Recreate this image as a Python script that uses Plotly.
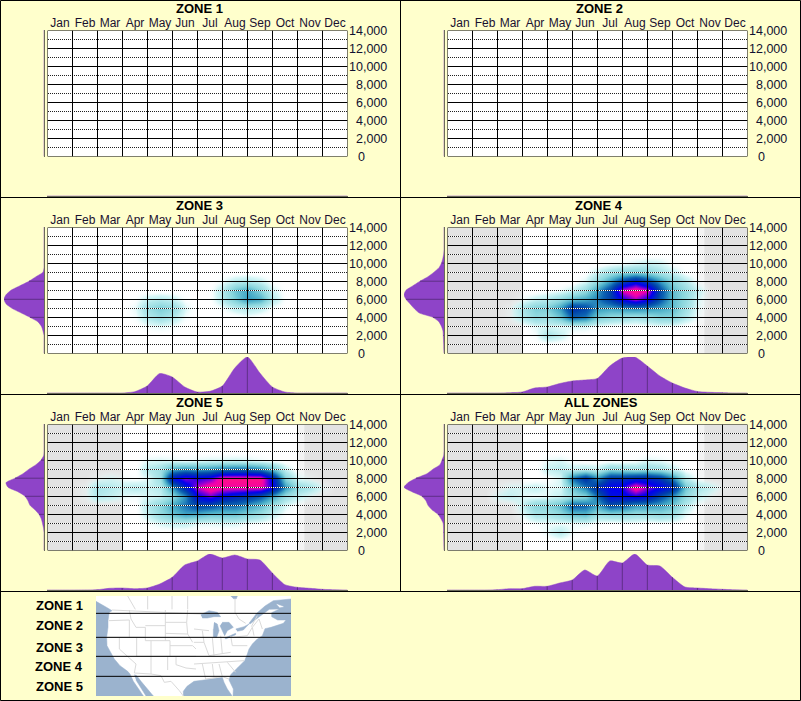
import plotly.graph_objects as go

W, H = 801, 701
CREAM = "#FFFFCC"
PURPLE = "#8E44C8"
FONT = "Liberation Sans"

MONTHS = ["Jan", "Feb", "Mar", "Apr", "May", "Jun", "Jul", "Aug", "Sep", "Oct", "Nov", "Dec"]
ELEV_TICKS = [0, 2000, 4000, 6000, 8000, 10000, 12000, 14000]
ELEV_DOTTED = [1000, 3000, 5000, 7000, 9000, 11000, 13000]
TITLES = ["ZONE 1", "ZONE 2", "ZONE 3", "ZONE 4", "ZONE 5", "ALL ZONES"]
SHADE_BANDS = [(0, 3, "#e3e3e3"), (10, 10.27, "#f3f3f3"), (10.27, 12, "#e3e3e3")]

# density along the year, sampled every half month (Jan 1 .. Dec 31)
MONTH_NODES = [i / 2 for i in range(25)]
MONTH_EMPTY = [0] * 25
MONTH_ZONE3 = [0, 0, 0, 0, 0, 0, 0, 1.3, 7, 19.5, 16, 6, 1, 1.7, 7, 25, 36, 20, 6, 1, 0, 0, 0, 0, 0]
MONTH_ZONE4 = [0, 0, 0, 0, 0, .3, 1, 5, 6, 9.5, 12, 13, 14.5, 27, 35, 36, 27, 17, 10, 5, 1.5, .7, .3, 0, 0]
MONTH_ZONE5 = [0, 0, 0, .1, .3, 1.7, 2, 1.3, 2, 6, 12.7, 25, 29, 36, 32, 35, 31, 30, 17, 5.3, 2.7, 1.7, .7, .2, 0]
MONTH_ALL = [0, 0, 0, 0, .3, 1.3, 1.3, 3.7, 3.7, 7, 10, 20, 14, 29, 27, 36, 25, 24, 12.7, 3, 2, 1.3, .7, .2, 0]

# density along elevation, sampled every 500 ft (0 .. 14000)
ELEV_NODES = [i * 500 for i in range(29)]
ELEV_EMPTY = [0] * 29
ELEV_ZONE3 = [0, 0, 0, 0, 0, 1, 2.5, 6, 14, 23, 32, 38, 40, 38, 33, 24, 15, 8, 1, 0, 0, 0, 0, 0, 0, 0, 0, 0, 0]
ELEV_ZONE4 = [0, .2, .3, .5, .7, 1, 2.5, 5, 11, 25, 30, 34, 38, 40, 38, 31, 24, 16, 10, 5, 2.5, 1.2, .3, 0, 0, 0, 0, 0, 0]
ELEV_ZONE5 = [0, 0, 0, 0, 0, .5, 1.5, 2.7, 5, 9, 14, 16, 19, 26, 36, 38, 29, 21, 15, 8, 3, .3, 0, 0, 0, 0, 0, 0, 0]
ELEV_ALL = [0, .1, .2, .3, .4, .5, .8, 3, 6, 12, 16, 18, 22, 32, 40, 36, 28, 17, 11, 4, 2, .3, 0, 0, 0, 0, 0, 0, 0]

# heat rows: (elevation, first month of the row, values every half month)
HEAT_ZONE3 = [
    (3000, 4.0, [.5, .8, .5]),
    (4000, 3.5, [.5, 2, 3, 2, .5, 0, 0, 0, 0, .4]),
    (5000, 3.5, [.8, 3, 4.5, 3.5, 1, 0, 0, .4, 1.5, 2, 1.5, .3]),
    (6000, 3.5, [.3, 1.5, 2, 1.5, .3, 0, .2, 2, 4.5, 7, 6, 2, .2]),
    (7000, 6.5, [.2, 2, 5, 6.5, 4, 1.2, .1]),
    (8000, 7.0, [.6, 1.8, 2.2, 1.4, .2]),
]
HEAT_ZONE4 = [
    (2000, 3.5, [.5, 2.5, 1.5, .2]),
    (3000, 3.5, [.8, 1.2, .8, 1, 1, .4, .1, 0, 0, .2, .5, .4]),
    (4000, 2.5, [.5, 2, 3.5, 3, 5, 9, 8, 4.5, 3.5, 3, 2.5, 3, 4, 4, 2, .5]),
    (5000, 2.5, [.5, 2.5, 4.5, 4.5, 7, 12, 10.5, 7, 6.5, 7, 7.5, 7, 6.5, 5.5, 3, .8]),
    (6000, 3.0, [.5, 1.5, 2, 3.5, 5.5, 6.5, 8, 11, 15, 17.5, 15, 9.5, 5.5, 3.5, 1]),
    (7000, 3.0, [.1, 0, .3, .6, 1.5, 3.5, 7, 11, 18.5, 20, 18.5, 10, 5.5, 3.5, 1.5]),
    (8000, 5.5, [1, 3.5, 7, 11, 14, 11, 7, 4, 2, .3]),
    (9000, 5.5, [.2, 1.5, 3, 4, 4.5, 4, 2.5, 1.5, .3]),
    (10000, 6.5, [.3, .5, 1, 1.5, 1.2, .3]),
]
HEAT_ZONE5 = [
    (3000, 4.0, [.3, 1, 1.5, 1.5, .8, .8, 1, 1, .5, .3]),
    (4000, 4.0, [1.5, 3.5, 5, 6.5, 6, 5, 5, 5, 4, 3, 1.5, .3]),
    (5000, 3.5, [.1, 2, 4, 6.5, 8.5, 10.5, 10, 8.5, 8.5, 7, 5.5, 3, 1, .2]),
    (6000, 1.5, [.5, 2, 1.5, .8, .5, 1, 1.5, 3.5, 7.5, 14.5, 16.5, 14, 12.5, 11.5, 9.5, 6.5, 3, 1.5, .5]),
    (7000, 1.5, [.5, 2.5, 2, 1.5, 2, 1.5, 2, 7, 13, 18, 20, 19, 19, 19, 19, 15, 7, 3.5, 2.5, .8]),
    (8000, 2.0, [.5, 1, .5, .3, .8, 3, 14, 17, 15.5, 16.5, 20, 20, 20, 20, 14, 4, 1, .4]),
    (9000, 3.5, [.1, 2, 3, 6.5, 7.5, 7, 7.5, 8.5, 9, 9, 8, 5.5, 1.5, .1]),
    (10000, 4.0, [.8, 1, .8, .5, .8, 1, 1, 1.2, 1, .6, .2]),
]
HEAT_ALL = [
    (2000, 4.0, [.8, 2, .5]),
    (3000, 3.5, [.4, .6, .6, .6, .8, .2, 0, .2, .3, 0, .2, .1]),
    (4000, 3.0, [.8, 2.5, 2.5, 3.5, 5, 5.5, 3, 3.5, 3.5, 3, 3, 3.5, 3, .8]),
    (5000, 3.0, [1.5, 4, 4, 5.5, 9.5, 9, 6.5, 10, 9, 7, 7, 6.5, 5, 2, .3]),
    (6000, 2.0, [1, 1.5, .8, .5, .8, 1.5, 3, 4, 8.5, 14, 14, 15, 14, 10, 7, 3.5, 1.5, .5]),
    (7000, 2.0, [.3, 1, 1, 1.5, .8, 1, 5, 8, 12.5, 15, 15.5, 20, 17, 15, 13, 5, 2.5, 1.5, .3]),
    (8000, 4.0, [.3, 1, 8.5, 12, 7.5, 12, 12, 13, 13, 11.5, 8, 2, .3]),
    (9000, 4.0, [1.5, 2, 1.5, 2, 1.5, 4, 3.5, 3, 3.5, 3, 1.5, .3]),
    (10000, 4.0, [.7, 1, .3, 0, 0, 0, 0, .3, 1, .7, .2]),
]
HEAT_COLORS = [
    [0, "rgba(255,255,255,0)"],
    [.05, "rgba(205,245,245,.8)"],
    [.1, "#b4e9ec"],
    [.2, "#8ad6dd"],
    [.325, "#44a9c6"],
    [.45, "#0c62b2"],
    [.55, "#0040aa"],
    [.65, "#0020cc"],
    [.75, "#0000f0"],
    [.85, "#8000d8"],
    [.925, "#f000b0"],
    [1, "#ff1088"],
]

# small base map, traced outlines
ZONE_LABELS = ["ZONE 1", "ZONE 2", "ZONE 3", "ZONE 4", "ZONE 5"]
ZONE_EDGES = [58, 130, 187, 247]
SEA = [
    [(0, 22), (20, 32), (35, 42), (48, 50), (40, 55), (38, 65), (36, 80), (36, 100), (32, 130), (33, 155), (45, 175),
     (55, 195), (72, 215), (95, 232), (102, 240), (112, 262), (128, 285), (142, 306), (0, 306)],
    [(115, 242), (122, 245), (135, 262), (150, 280), (172, 306), (150, 306), (135, 280), (120, 258)],
    [(262, 306), (262, 292), (273, 277), (294, 262), (324, 258), (354, 253), (379, 250), (384, 265), (394, 285),
     (406, 302), (408, 306)],
    [(411, 306), (412, 285), (399, 258), (404, 242), (424, 222), (446, 200), (454, 180), (459, 165), (469, 150),
     (484, 135), (499, 125), (504, 112), (507, 104), (525, 100), (562, 88), (570, 78), (545, 78), (527, 68), (527, 56),
     (550, 45), (520, 46), (490, 68), (462, 90), (459, 88), (482, 58), (507, 36), (532, 20), (585, 15), (585, 306)],
    [(314, 62), (339, 50), (364, 55), (374, 68), (354, 68), (334, 72), (319, 72)],
    [(354, 85), (364, 90), (369, 110), (362, 130), (352, 128), (352, 105)],
    [(379, 85), (399, 85), (412, 100), (394, 110), (386, 125), (379, 112), (372, 95)],
    [(386, 132), (404, 125), (419, 118), (419, 122), (399, 132), (389, 135)],
    [(419, 105), (444, 98), (459, 90), (442, 108), (424, 112)],
    [(404, 6), (424, 6), (421, 14), (412, 14)],
]
ISLANDS = [[(542, 31), (562, 38), (550, 40)]]
BORDERS = [
    [(48, 48), (314, 60)], [(95, 6), (118, 46)], [(155, 6), (155, 46)], [(228, 6), (228, 46)], [(275, 6), (275, 46)],
    [(38, 80), (62, 80), (100, 78)], [(100, 48), (105, 75), (120, 100), (148, 100), (148, 140)], [(100, 78), (100, 130)],
    [(33, 130), (148, 130)], [(148, 95), (208, 95)], [(208, 48), (208, 140)], [(208, 85), (272, 85)],
    [(208, 118), (275, 120), (290, 145)], [(148, 140), (222, 140), (222, 187), (165, 187), (165, 140)],
    [(222, 155), (290, 155), (300, 165)], [(222, 187), (300, 187)], [(70, 130), (70, 165), (120, 210), (115, 237)],
    [(122, 130), (122, 187), (165, 187)], [(165, 187), (165, 240), (115, 237)], [(215, 187), (215, 228)],
    [(240, 187), (240, 212), (270, 222), (300, 225)],
    [(165, 240), (195, 245), (205, 265), (225, 262), (250, 290), (262, 306)], [(275, 48), (272, 85), (275, 120)],
    [(294, 105), (339, 110)], [(294, 145), (324, 145), (339, 185)], [(324, 145), (319, 110)],
    [(339, 185), (374, 180), (404, 175)], [(349, 130), (354, 185)], [(374, 125), (379, 180)], [(404, 125), (409, 155)],
    [(409, 155), (454, 155)], [(454, 125), (409, 130)], [(294, 210), (444, 200)], [(319, 210), (329, 255)],
    [(349, 210), (354, 250)], [(369, 210), (379, 248)], [(394, 205), (419, 235)], [(329, 255), (379, 248), (399, 255)],
    [(469, 100), (474, 125)], [(489, 75), (499, 105)], [(454, 125), (469, 100), (489, 75)], [(484, 65), (466, 98)],
    [(417, 14), (417, 55), (429, 75), (449, 88)],
]


def fx(px):
    return px / W


def fy(py):
    return 1 - py / H


def polygon_xy(polys):
    xs, ys = [], []
    for poly in polys:
        xs += [p[0] for p in poly] + [None]
        ys += [p[1] for p in poly] + [None]
    return xs, ys


def heat_grid(rows):
    elevs = [i * 1000 for i in range(15)]
    z = [[0] * len(MONTH_NODES) for _ in elevs]
    for elev, first, values in rows:
        start = int(first * 2)
        z[elevs.index(elev)][start:start + len(values)] = values
    return elevs, z


fig = go.Figure()
axis_count = 0
shapes = []
annotations = []


def add_axes(x0, x1, y0, y1, xrange, yrange, xopts=None, yopts=None):
    """New axis pair placed by pixel box, returns the trace refs."""
    global axis_count
    axis_count += 1
    n = "" if axis_count == 1 else str(axis_count)
    base = dict(showgrid=False, zeroline=False, showticklabels=False, ticks="", showline=False, fixedrange=True)
    fig.layout[f"xaxis{n}"] = dict(base, domain=[fx(x0), fx(x1)], range=xrange, anchor=f"y{n}", **(xopts or {}))
    fig.layout[f"yaxis{n}"] = dict(base, domain=[fy(y1), fy(y0)], range=yrange, anchor=f"x{n}", **(yopts or {}))
    return f"x{n}", f"y{n}"


def segments(pairs):
    xs, ys = [], []
    for a, b in pairs:
        xs += [a[0], b[0], None]
        ys += [a[1], b[1], None]
    return xs, ys


def add_lines(xs, ys, xref, yref, color, dash="solid"):
    fig.add_trace(go.Scatter(
        x=xs, y=ys, xaxis=xref, yaxis=yref, mode="lines", hoverinfo="skip", showlegend=False,
        cliponaxis=False, line=dict(color=color, width=1, dash=dash),
    ))


def draw_panel(col, row, title, month_curve, elev_curve, heat, shaded):
    left = col * 400
    top = row * 197
    px0, px1 = left + 47.5, left + 347.5
    py0, py1 = top + 30.5, top + 156.5

    xref, yref = add_axes(
        px0, px1, py0, py1, [0, 12], [0, 14000],
        xopts=dict(side="top", showticklabels=True, tickmode="array", tickvals=[m + .5 for m in range(12)],
                   ticktext=MONTHS, tickangle=0, tickfont=dict(family=FONT, size=12, color="#1a1030")),
    )
    shapes.append(dict(type="rect", xref=xref, yref=yref, x0=0, x1=12, y0=0, y1=14000, layer="below",
                       fillcolor="white", line_width=0))
    if shaded:
        for start, end, color in SHADE_BANDS:
            shapes.append(dict(type="rect", xref=xref, yref=yref, x0=start, x1=end, y0=0, y1=14000, layer="below",
                               fillcolor=color, line_width=0))
    if heat:
        elevs, z = heat_grid(heat)
        fig.add_trace(go.Heatmap(
            x=MONTH_NODES, y=elevs, z=z, xaxis=xref, yaxis=yref, zmin=0, zmax=20, zsmooth="best",
            colorscale=HEAT_COLORS, showscale=False, hoverinfo="skip",
        ))

    # half a pixel in from the edge so the 1px dots land on whole pixels
    dot_start = .5 / 25
    xs, ys = segments([((dot_start, e), (12, e)) for e in ELEV_DOTTED])
    add_lines(xs, ys, xref, yref, "white")
    add_lines(xs, ys, xref, yref, "#202020", dash="1px,1px")
    grid = [((m, 0), (m, 14000)) for m in range(13)] + [((0, e), (12, e)) for e in ELEV_TICKS]
    xs, ys = segments(grid)
    add_lines(xs, ys, xref, yref, "black")

    for e in ELEV_TICKS:
        annotations.append(dict(
            text=f"{e:,}", xref="paper", yref=yref, x=fx(left + (355.5 if e == 0 else 388.5)), y=e,
            xanchor="left" if e == 0 else "right", yanchor="middle", showarrow=False,
            font=dict(family=FONT, size=12.5, color="#101030"),
        ))
    annotations.append(dict(
        text=f"<b>{title}</b>", xref="paper", yref="paper", x=fx(left + 199 + (1.5 if title == "ALL ZONES" else 0)),
        y=fy(top + 8.5), xanchor="center", yanchor="middle", showarrow=False,
        font=dict(family=FONT, size=13, color="black"),
    ))

    # year curve under the plot
    base_line = dict(showline=True, linecolor="#6b6b5c", linewidth=1)
    bx, by = add_axes(px0 - .5, px1, top + 160, top + 196, [0, 12], [0, 36], xopts=base_line)
    fig.add_trace(go.Scatter(
        x=MONTH_NODES, y=month_curve, xaxis=bx, yaxis=by, mode="lines", fill="tozeroy", fillcolor=PURPLE,
        line=dict(color=PURPLE, width=.5, shape="spline", smoothing=.6), hoverinfo="skip", showlegend=False,
    ))
    xs, ys = segments([((m, 0), (m, h)) for m, h in zip(MONTH_NODES, month_curve) if m == int(m)])
    add_lines(xs, ys, bx, by, "#5e2f86")

    # elevation curve left of the plot
    lx, ly = add_axes(left + 4, left + 44, py0 - .5, py1, [40, 0], [0, 14000], yopts=dict(base_line, side="right"))
    fig.add_trace(go.Scatter(
        x=elev_curve, y=ELEV_NODES, xaxis=lx, yaxis=ly, mode="lines", fill="tozerox", fillcolor=PURPLE,
        line=dict(color=PURPLE, width=.5, shape="spline", smoothing=.6), hoverinfo="skip", showlegend=False,
    ))
    xs, ys = segments([((0, e), (w, e)) for e, w in zip(ELEV_NODES, elev_curve) if e % 2000 == 0])
    add_lines(xs, ys, lx, ly, "#5e2f86")


draw_panel(0, 0, TITLES[0], MONTH_EMPTY, ELEV_EMPTY, None, False)
draw_panel(1, 0, TITLES[1], MONTH_EMPTY, ELEV_EMPTY, None, False)
draw_panel(0, 1, TITLES[2], MONTH_ZONE3, ELEV_ZONE3, HEAT_ZONE3, False)
draw_panel(1, 1, TITLES[3], MONTH_ZONE4, ELEV_ZONE4, HEAT_ZONE4, True)
draw_panel(0, 2, TITLES[4], MONTH_ZONE5, ELEV_ZONE5, HEAT_ZONE5, True)
draw_panel(1, 2, TITLES[5], MONTH_ALL, ELEV_ALL, HEAT_ALL, True)

# base map panel
mx, my = add_axes(96, 291, 596, 696, [0, 585], [306, 6])
shapes.append(dict(type="rect", xref=mx, yref=my, x0=0, x1=585, y0=6, y1=306, layer="below",
                   fillcolor="white", line_width=0))
xs, ys = polygon_xy(SEA)
fig.add_trace(go.Scatter(x=xs, y=ys, xaxis=mx, yaxis=my, mode="lines", fill="toself", fillcolor="#9BB3CE",
                         line=dict(color="#9BB3CE", width=.5), hoverinfo="skip", showlegend=False))
xs, ys = polygon_xy(ISLANDS)
fig.add_trace(go.Scatter(x=xs, y=ys, xaxis=mx, yaxis=my, mode="lines", fill="toself", fillcolor="white",
                         line=dict(color="white", width=.5), hoverinfo="skip", showlegend=False))
xs, ys = polygon_xy(BORDERS)
fig.add_trace(go.Scatter(x=xs, y=ys, xaxis=mx, yaxis=my, mode="lines", line=dict(color="#dadada", width=1),
                         hoverinfo="skip", showlegend=False))
xs, ys = segments([((0, e), (585, e)) for e in ZONE_EDGES])
add_lines(xs, ys, mx, my, "black")
for label, y_px in zip(ZONE_LABELS, [605, 625, 647, 666, 686.5]):
    annotations.append(dict(text=f"<b>{label}</b>", xref="paper", yref="paper", x=fx(84.5), y=fy(y_px), xanchor="right",
                            yanchor="middle", showarrow=False, font=dict(family=FONT, size=13, color="black")))

# panel frame
frame = [(.5, .5, 800.5, .5), (.5, 197.5, 800.5, 197.5), (.5, 394.5, 800.5, 394.5), (.5, 591.5, 800.5, 591.5),
         (.5, 700.5, 800.5, 700.5), (.5, .5, .5, 700.5), (400.5, .5, 400.5, 591.5), (800.5, .5, 800.5, 700.5)]
for x0, y0, x1, y1 in frame:
    shapes.append(dict(type="line", xref="paper", yref="paper", x0=fx(x0), y0=fy(y0), x1=fx(x1), y1=fy(y1),
                       line=dict(color="black", width=1)))

fig.update_layout(
    width=W, height=H, margin=dict(l=0, r=0, t=0, b=0, pad=0), paper_bgcolor=CREAM,
    plot_bgcolor="rgba(0,0,0,0)", showlegend=False, shapes=shapes, annotations=annotations,
)
fig.write_html("out.html", config=dict(displayModeBar=False),
               post_script="document.body.style.margin='0';document.body.style.overflow='hidden';")
